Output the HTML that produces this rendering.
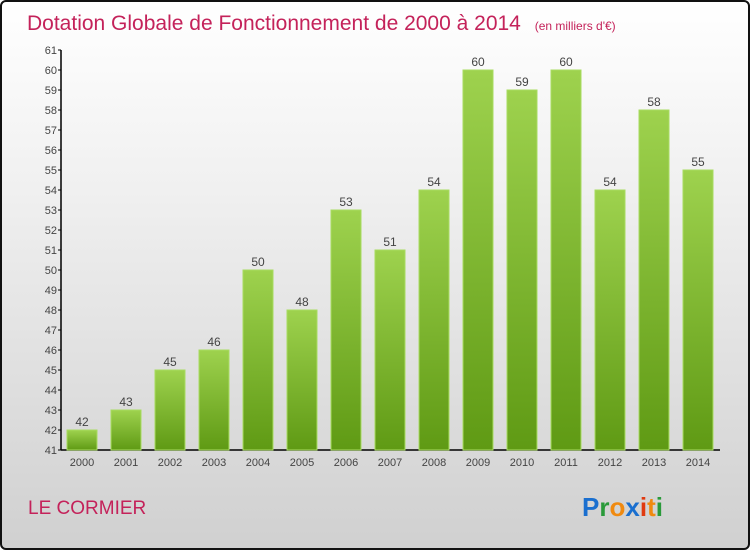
<!DOCTYPE html>
<html><head><meta charset="utf-8"><style>
html,body{margin:0;padding:0;}
body{width:750px;height:550px;overflow:hidden;font-family:"Liberation Sans",sans-serif;}
#frame{position:absolute;left:0;top:0;width:746px;height:546px;border:2px solid #111;border-radius:6px;background:linear-gradient(#ffffff 0%,#f2f2f2 30%,#d0d0d0 100%);}
</style></head><body>
<div id="frame"></div>
<svg id="c" width="750" height="550" style="position:absolute;left:0;top:0">
<defs>
<linearGradient id="g" x1="0" y1="0" x2="0" y2="1"><stop offset="0" stop-color="#9ed24e"/><stop offset="1" stop-color="#5f9a14"/></linearGradient>
</defs>
<text x="27" y="30" font-size="21" fill="#c4225a">Dotation Globale de Fonctionnement de 2000 à 2014 <tspan font-size="12" dx="8">(en milliers d'€)</tspan></text>
<text x="28" y="514" font-size="19" fill="#c4225a">LE CORMIER</text>
<text x="582" y="516" font-size="26" font-weight="bold"><tspan fill="#1a6fcf">P</tspan><tspan fill="#2a9a3a">r</tspan><tspan fill="#f08a10">o</tspan><tspan fill="#1a6fcf">x</tspan><tspan fill="#e03a10">i</tspan><tspan fill="#f08a10">t</tspan><tspan fill="#2a9a3a">i</tspan></text>
<g id="plot"></g>
</svg>
<script>
const years=["2000","2001","2002","2003","2004","2005","2006","2007","2008","2009","2010","2011","2012","2013","2014"];
const values=[42,43,45,46,50,48,53,51,54,60,59,60,54,58,55];
const yTicks=[41,42,43,44,45,46,47,48,49,50,51,52,53,54,55,56,57,58,59,60,61];
const NS="http://www.w3.org/2000/svg";
const plot=document.getElementById('plot');
const yMin=41,yMax=61,yTop=50,yBot=450;
const y=v=>yBot-(v-yMin)/(yMax-yMin)*(yBot-yTop);
const x=i=>82+i*44;
function mk(t,a){const e=document.createElementNS(NS,t);for(const k in a)e.setAttribute(k,a[k]);plot.appendChild(e);return e;}
let ax=mk('line',{x1:61,y1:yTop,x2:61,y2:yBot,stroke:'#000','stroke-width':1.5});


let xa=mk('line',{x1:61,y1:yBot,x2:720,y2:yBot,stroke:'#000','stroke-width':1.5});


yTicks.forEach(t=>{
 const tk=mk('line',{x1:58,y1:y(t),x2:61,y2:y(t),stroke:'#000'});
 
 
 const l=mk('text',{x:57,y:y(t)+4,'font-size':11,fill:'#444','text-anchor':'end'});
 l.textContent=t;
 
 
});
values.forEach((v,i)=>{
 const b=mk('rect',{x:x(i)-15,y:y(v),width:30,height:yBot-y(v),fill:'url(#g)',stroke:'#a8dc60','stroke-width':1});
 
 
 const vl=mk('text',{x:x(i),y:y(v)-4,'font-size':12,fill:'#444','text-anchor':'middle'});
 vl.textContent=v;
 
 
 const xl=mk('text',{x:x(i),y:466,'font-size':11,fill:'#444','text-anchor':'middle'});
 xl.textContent=years[i];
 
 
});
</script>
</body></html>
